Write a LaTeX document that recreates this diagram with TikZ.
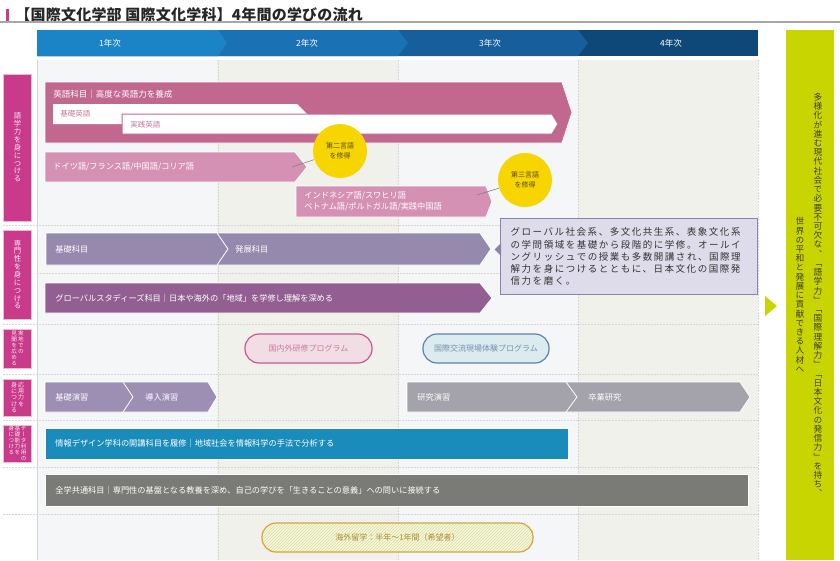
\documentclass[tikz,border=0pt]{standalone}
\usepackage{fontspec}
\setmainfont{Noto Sans CJK JP}
\newfontfamily\vjp[RawFeature=+vert]{Noto Sans CJK JP}
\newfontfamily\wjp[LetterSpace=16]{Noto Sans CJK JP}
\newfontfamily\tjp[LetterSpace=1.5]{Noto Sans CJK JP}
\usetikzlibrary{patterns}
\definecolor{hdA}{HTML}{1B84C6}
\definecolor{hdB}{HTML}{1A72B4}
\definecolor{hdC}{HTML}{165F9C}
\definecolor{hdD}{HTML}{0E4878}
\definecolor{colA}{HTML}{F5F6F8}
\definecolor{colB}{HTML}{F1F1EC}
\definecolor{gridc}{HTML}{D6D6D6}
\definecolor{mag}{HTML}{C93A8B}
\definecolor{pinkA}{HTML}{C2688F}
\definecolor{pinkB}{HTML}{D591B3}
\definecolor{pinkT}{HTML}{C27A9B}
\definecolor{yel}{HTML}{F6D500}
\definecolor{yelT}{HTML}{5A4A1E}
\definecolor{purA}{HTML}{9689AE}
\definecolor{purB}{HTML}{935F92}
\definecolor{purC}{HTML}{9C8FB3}
\definecolor{grayA}{HTML}{A4A3AC}
\definecolor{grayB}{HTML}{7A7B76}
\definecolor{blueA}{HTML}{1A8CBB}
\definecolor{infoF}{HTML}{DEDCEA}
\definecolor{infoD}{HTML}{8A84AD}
\definecolor{lime}{HTML}{C9D500}
\definecolor{limeT}{HTML}{3C3C28}
\definecolor{ppF}{HTML}{F3DDE4}
\definecolor{ppD}{HTML}{C95790}
\definecolor{ppT}{HTML}{C57A9F}
\definecolor{pbF}{HTML}{DCEBEE}
\definecolor{pbD}{HTML}{5E80B8}
\definecolor{pbT}{HTML}{7491B1}
\definecolor{goldD}{HTML}{D3A53D}
\definecolor{goldT}{HTML}{B08C3A}
\definecolor{goldF}{HTML}{F6F7E2}
\definecolor{stripe}{HTML}{D9DE98}
\makeatletter
\newcommand\tate[1]{\vtop{\baselineskip=1.06em\lineskiplimit=-\maxdimen\tate@#1\@nil}}
\def\tate@#1{\ifx\@nil#1\else\hbox to 1em{\hss#1\hss}\expandafter\tate@\fi}
\makeatother
% bar with a pointed right end: style, left, tip, top, bottom, depth
\newcommand\chev[6]{\path[#1] (#2,#4) -- ({#3-#6},#4) -- (#3,{(#4+#5)/2}) -- ({#3-#6},#5) -- (#2,#5) -- cycle;}
\tikzset{
  every picture/.style={line width=0.8pt},
  grid/.style={gridc, line width=0.6pt, dash pattern=on 1.5pt off 1.5pt},
  bar/.style={fill=#1, draw=white, line width=0.8pt},
  btxt/.style={anchor=west, text=white, inner sep=0pt, font=\fontsize{8.2}{10}\selectfont},
  htxt/.style={text=white, inner sep=0pt, font=\fontsize{8.5}{10}\selectfont},
  lbl/.style={fill=mag, draw=mag!35!white, line width=0.6pt, minimum width=28pt, inner sep=0pt, text=white!88!mag},
  yc/.style={circle, fill=yel, minimum size=54pt, inner sep=0pt, align=center, text=yelT, font=\fontsize{7}{10}\selectfont},
  lead/.style={gray, line width=0.6pt},
  pill/.style={rounded corners=14pt, minimum height=29pt, line width=1.2pt, inner sep=0pt, font=\fontsize{8}{10}\selectfont},
}
\begin{document}
\begin{tikzpicture}[x=1pt, y=-1pt]
  \useasboundingbox (0,0) rectangle (840,560);
  % title
  \fill[mag] (6,8.5) rectangle (8.5,21);
  \node[anchor=west, inner sep=0pt, text=black!85, font=\tjp\bfseries\fontsize{15}{15}\selectfont] (title) at (15,14.5) {【国際文化学部 国際文化学科】4年間の学びの流れ};
  \draw[black!35, line width=1.2pt] (0,22) -- (840,22);
  % year columns
  \foreach \i/\c in {0/colA, 1/colB, 2/colA, 3/colB}
    \fill[\c] ({37+180.25*\i},60) rectangle ({217.25+180.25*\i},560);
  \draw[gridc, line width=0.6pt] (37,60) -- (37,560);
  \foreach \x in {218, 398, 578, 758} \draw[grid] (\x,60) -- (\x,560);
  \foreach \y in {225, 324, 374, 420, 467, 514} \draw[grid] (3,\y) -- (758,\y);
  \draw[grid] (37,273) -- (758,273);
  % year header
  \fill[hdD] (37,30) rectangle (758,56);
  \chev{fill=hdC}{37}{588}{30}{56}{10}
  \chev{fill=hdB}{37}{408}{30}{56}{10}
  \chev{fill=hdA}{37}{227}{30}{56}{9}
  \foreach \x/\t [count=\k] in {110/1年次, 307/2年次, 490/3年次, 671/4年次}
    \node[htxt] (yr\k) at (\x,43) {\t};
  % goal panel
  \fill[lime] (786,30) rectangle (834,560);
  \fill[lime] (765,296) -- (777,306) -- (765,316) -- cycle;
  \node[inner sep=0pt, text=limeT, font=\vjp\fontsize{8.7}{10}\selectfont] (goalA) at (818,295)
    {\tate{多様化が進む現代社会で必要不可欠な、「語学力」「国際理解力」「日本文化の発信力」を持ち、}};
  \node[inner sep=0pt, text=limeT, font=\vjp\fontsize{8.7}{10}\selectfont] (goalB) at (800,295)
    {\tate{世界の平和と発展に貢献できる人材へ}};
  % row labels
  \node[lbl, minimum height=147pt, font=\vjp\fontsize{7.4}{8}\selectfont] (lb1) at (17.5,147.5) {\tate{語学力を身につける}};
  \node[lbl, minimum height=89pt, font=\vjp\fontsize{7.4}{8}\selectfont] (lb2) at (17.5,274.5) {\tate{専門性を身につける}};
  \node[lbl, minimum height=39pt, font=\vjp\fontsize{5.6}{6}\selectfont] (lb3) at (17.5,348.5)
    {\hbox{\tate{見聞を広める}\kern1pt\tate{実地での}}};
  \node[lbl, minimum height=37pt, font=\vjp\fontsize{6}{6}\selectfont] (lb4) at (17.5,397.5)
    {\hbox{\tate{身につける}\kern1pt\tate{応用力を}}};
  \node[lbl, minimum height=37pt, font=\vjp\fontsize{5.6}{6}\selectfont] (lb5) at (17.5,443.5)
    {\hbox{\tate{身につける}\kern.5pt\tate{基礎能力を}\kern.5pt\tate{データ利用の}}};
  % language
  \chev{bar=pinkA}{45}{572}{82}{143}{10}
  \node[btxt, font=\fontsize{8.5}{10}\selectfont] (eng) at (53,94) {英語科目｜高度な英語力を養成};
  \chev{fill=white}{53}{307}{104}{124}{10}
  \chev{fill=white, draw=pinkA, line width=1pt}{122}{558}{114}{134}{6}
  \node[btxt, text=pinkT, font=\fontsize{7.5}{10}\selectfont] (engA) at (60,114) {基礎英語};
  \node[btxt, text=pinkT, font=\fontsize{7.5}{10}\selectfont] (engB) at (130,124.5) {実践英語};
  \chev{bar=pinkB}{45}{307}{152}{182}{12}
  \node[btxt] (lang2) at (53,167) {ドイツ語/フランス語/中国語/コリア語};
  \chev{bar=pinkB}{296}{492}{186}{217}{6}
  \node[btxt, align=left, font=\fontsize{8.2}{11.5}\selectfont] (lang3) at (304,201.5)
    {インドネシア語/スワヒリ語\\ベトナム語/ポルトガル語/実践中国語};
  \node[yc] (sec) at (340,151) {第二言語\\を修得};
  \node[yc] (thd) at (525,180) {第三言語\\を修得};
  \coordinate (secl) at (292,167);
  \coordinate (thdl) at (477,195);
  \draw[lead] (secl) -- (sec);
  \draw[lead] (thdl) -- (thd);
  % speciality
  \chev{bar=purA}{46}{491}{233}{265}{11}
  \chev{bar=purA}{46}{228}{233}{265}{11}
  \node[btxt] (basic) at (55,249) {基礎科目};
  \node[btxt] (adv) at (235,249) {発展科目};
  \chev{bar=purB}{45}{492}{283}{313}{12}
  \node[btxt] (gs) at (55,298) {グローバルスタディーズ科目｜日本や海外の「地域」を学修し理解を深める};
  \node[anchor=north west, fill=infoF, draw=infoD, line width=1.4pt, minimum width=257pt, minimum height=76pt,
    text width=237pt, inner xsep=10pt, align=left, text=black!80, font=\wjp\fontsize{9.5}{12.3}\selectfont] (info) at (500,218)
    {グローバル社会系、多文化共生系、表象文化系\\の学問領域を基礎から段階的に学修。オールイ\\ングリッシュでの授業も多数開講され、国際理\\解力を身につけるとともに、日本文化の国際発\\信力を磨く。};
  \fill[infoD] (501,243) -- (494.5,249.5) -- (501,256) -- cycle;
  % field programs
  \node[pill, draw=ppD, fill=ppF, text=ppT, minimum width=127pt] (trip) at (308.5,348.5) {国内外研修プログラム};
  \node[pill, draw=pbD, fill=pbF, text=pbT, minimum width=126pt] (xchg) at (486,348.5) {国際交流現場体験プログラム};
  % seminars
  \chev{bar=purC}{45}{217}{382}{412}{9}
  \chev{bar=purC}{45}{133}{382}{412}{10}
  \node[btxt] (semA) at (55,397) {基礎演習};
  \node[btxt] (semB) at (145,397) {導入演習};
  \chev{bar=grayA}{407}{750}{382}{412}{10}
  \chev{bar=grayA}{407}{577}{382}{412}{11}
  \node[btxt] (semC) at (417,397) {研究演習};
  \node[btxt] (semD) at (588,397) {卒業研究};
  % data, common
  \path[bar=blueA] (45,428) rectangle (568,459);
  \node[btxt] (data) at (55,443.5) {情報デザイン学科の開講科目を履修｜地域社会を情報科学の手法で分析する};
  \path[bar=grayB] (45,474) rectangle (748,506);
  \node[btxt] (common) at (55,490) {全学共通科目｜専門性の基盤となる教養を深め、自己の学びを「生きることの意義」への問いに接続する};
  % study abroad
  \node[pill, draw=goldD, text=goldT, minimum width=271pt, preaction={fill=goldF},
    pattern=north east lines, pattern color=stripe] (abroad) at (397.5,537.5) {海外留学：半年〜1年間（希望者）};
\end{tikzpicture}
\end{document}
